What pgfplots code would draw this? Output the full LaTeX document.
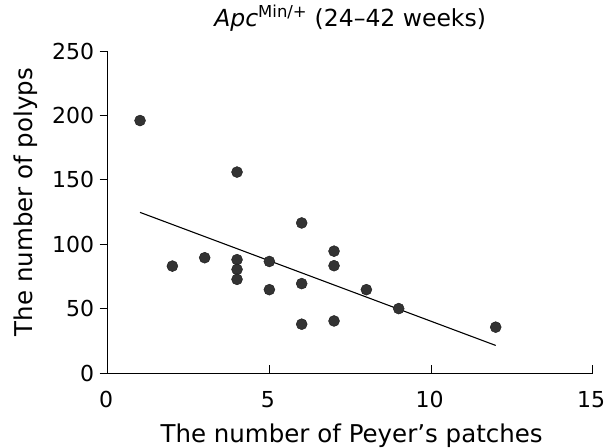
\documentclass[border=0pt]{standalone}
\usepackage{pgfplots}
\pgfplotsset{compat=1.18}
\usepackage{fontspec}
\setmainfont{DejaVu Sans}
\begin{document}
\begin{tikzpicture}
\begin{axis}[
  scale only axis,
  width=485bp, height=322bp,
  xmin=0, xmax=15, ymin=0, ymax=250,
  axis x line*=bottom, axis y line*=left,
  xtick={0,5,10,15}, ytick={0,50,100,150,200,250},
  xtick align=inside, ytick align=outside,
  major tick length=8bp,
  tick style={black, line width=0.8pt},
  axis line style={line width=0.8pt},
  tick label style={font=\fontsize{22bp}{24bp}\selectfont},
  xticklabel style={yshift=-15bp, xshift=-1.5bp},
  yticklabel style={xshift=-2bp},
  /pgf/number format/assume math mode=true,
  xlabel={The number of Peyer’s patches},
  ylabel={The number of polyps},
  xlabel style={font=\fontsize{24.5bp}{26bp}\selectfont, at={(axis description cs:0.503,-0.217)}, anchor=base},
  ylabel style={font=\fontsize{24.5bp}{26bp}\selectfont, at={(axis description cs:-0.156,0.531)}, anchor=base},
  title={\textit{Apc}\textsuperscript{Min/+} (24–42 weeks)},
  title style={font=\fontsize{23.5bp}{25bp}\selectfont, at={(axis description cs:0.5,1)}, anchor=base, yshift=19bp},
  clip=false,
]
\addplot[only marks, mark=*, mark size=5.5bp, mark options={fill=black!80, draw=black!90}]
coordinates {
(1,196) (2,83) (3,89.5) (4,156) (4,88) (4,80.4) (4,72.7)
(5,86.6) (5,64.7) (6,116.5) (6,69.4) (6,37.9)
(7,94.6) (7,83.3) (7,40.4) (8,64.7) (9,50) (12,35.6)
};
\addplot[black, line width=1.1pt] coordinates {(1,124.7) (12,21.4)};
\end{axis}
\pgfresetboundingbox
\path[use as bounding box] (-107.7bp,-75bp) rectangle (499.3bp,373bp);
\end{tikzpicture}
\end{document}
